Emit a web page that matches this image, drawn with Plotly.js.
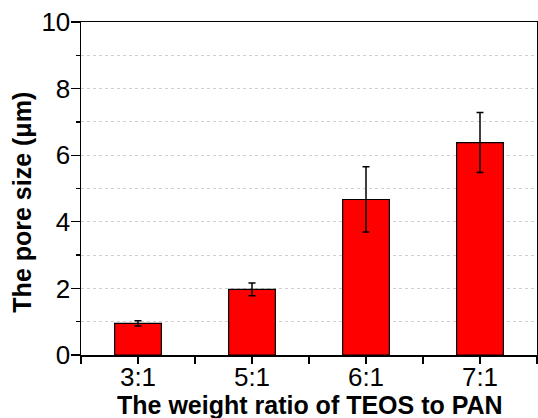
<!DOCTYPE html>
<html>
<head>
<meta charset="utf-8">
<script src="https://cdn.plot.ly/plotly-3.0.1.min.js"></script>
<style>html,body{margin:0;padding:0;background:#fff;}#chart{width:538px;height:418px;}</style>
</head>
<body>
<div id="chart"></div>
<script>
const categories = ["3:1", "5:1", "6:1", "7:1"];
const poreSize = [0.95, 1.97, 4.67, 6.38];
const poreError = [0.08, 0.19, 0.98, 0.90];

const xIdx = categories.map((c, i) => i);
const FONT = "Arial, 'Liberation Sans', sans-serif";

const trace = {
  type: "bar",
  x: xIdx,
  y: poreSize,
  width: 0.41,
  marker: { color: "#ff0000", line: { color: "#000000", width: 1.2 } },
  error_y: { type: "data", array: poreError, visible: true, color: "#000000", thickness: 1.5, width: 3.5 },
  hoverinfo: "skip"
};

const layout = {
  width: 538, height: 418,
  margin: { l: 81, r: 1, t: 22, b: 63, pad: 0 },
  paper_bgcolor: "#ffffff", plot_bgcolor: "#ffffff",
  showlegend: false,
  font: { family: FONT, color: "#000000" },
  xaxis: {
    range: [-0.5, 3.5],
    tickvals: xIdx, ticktext: categories,
    ticks: "outside", ticklen: 7, tickwidth: 1.3, tickcolor: "#000",
    minor: { dtick: 0.5, tick0: -0.5, ticks: "outside", ticklen: 7, tickwidth: 1.3, tickcolor: "#000", showgrid: false },
    showline: true, linecolor: "#000", linewidth: 1.5, mirror: true,
    showgrid: false, zeroline: false,
    tickfont: { size: 26, family: FONT, color: "#000" },
    ticklabelstandoff: -9,
    fixedrange: true
  },
  yaxis: {
    range: [0, 10], dtick: 2, tick0: 0,
    ticks: "outside", ticklen: 9, tickwidth: 1.3, tickcolor: "#000",
    minor: { dtick: 1, ticks: "outside", ticklen: 4, tickwidth: 1.3, tickcolor: "#000", showgrid: true, gridcolor: "#d0d0d0", griddash: "dot", gridwidth: 1 },
    showgrid: true, gridcolor: "#d0d0d0", griddash: "dot", gridwidth: 1,
    showline: true, linecolor: "#000", linewidth: 1.5, mirror: true,
    zeroline: false,
    tickfont: { size: 26, family: FONT, color: "#000" },
    ticklabelstandoff: -5,
    fixedrange: true
  },
  xaxis2: {
    overlaying: "x", side: "top", anchor: "y",
    range: [-0.5, 3.5], tickvals: xIdx, showticklabels: false,
    ticks: "inside", ticklen: 3, tickwidth: 1, tickcolor: "#666",
    minor: { dtick: 0.5, tick0: -0.5, ticks: "inside", ticklen: 3, tickwidth: 1, tickcolor: "#666" },
    showgrid: false, zeroline: false, showline: false, fixedrange: true
  },
  yaxis2: {
    overlaying: "y", side: "right", anchor: "x",
    range: [0, 10], dtick: 1, showticklabels: false,
    ticks: "inside", ticklen: 4, tickwidth: 1.2, tickcolor: "#333",
    showgrid: false, zeroline: false, showline: false, fixedrange: true
  },
  annotations: [
    { text: "<b>The weight ratio of TEOS to PAN</b>", xref: "paper", yref: "paper",
      x: 0.503, y: -0.149, xanchor: "center", yanchor: "middle", showarrow: false,
      font: { size: 25, family: FONT, color: "#000" } },
    { text: "<b>The pore size (\u03bcm)</b>", xref: "paper", yref: "paper",
      x: -0.129, y: 0.458, xanchor: "center", yanchor: "middle", textangle: -90, showarrow: false,
      font: { size: 25, family: FONT, color: "#000" } }
  ]
};

Plotly.newPlot("chart", [trace], layout, { staticPlot: true, displayModeBar: false });
</script>
</body>
</html>
